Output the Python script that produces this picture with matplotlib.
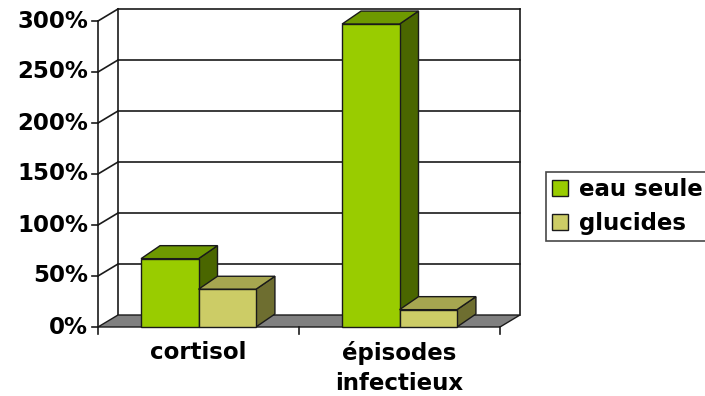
import matplotlib
matplotlib.use("Agg")
import matplotlib.pyplot as plt
from matplotlib.patches import Polygon, Patch
import numpy as np

# Data
categories = ["cortisol", "épisodes\ninfectieux"]
series_names = ["eau seule", "glucides"]
eau_seule = [67, 297]
glucides = [37, 17]
y_ticks = [0, 50, 100, 150, 200, 250, 300]
y_tick_labels = ["0%", "50%", "100%", "150%", "200%", "250%", "300%"]

# Face colours per series: front, side, top
front_colors = ["#99CC00", "#CCCC66"]
side_colors = ["#4A6600", "#6E6E30"]
top_colors = ["#6E9900", "#A6A650"]

W, H, DPI = 705, 396, 100
fig = plt.figure(figsize=(W / DPI, H / DPI), dpi=DPI)
fig.patch.set_facecolor("white")

# Axes spanning the front plane of the 3-D plot area
ax_left, ax_right, ax_bottom_px, ax_top_px = 98, 500, 327, 21
ax = fig.add_axes([ax_left / W, 1 - ax_bottom_px / H,
                   (ax_right - ax_left) / W, (ax_bottom_px - ax_top_px) / H])
ax.set_xlim(0, len(categories))
ax.set_ylim(0, 300)
ax.axis("off")

# Pixel -> data conversion for the depth offsets
px_x = len(categories) / (ax_right - ax_left)
px_y = 300 / (ax_bottom_px - ax_top_px)
wall_dx, wall_dy = 20 * px_x, 12 * px_y
bar_dx, bar_dy = 19 * px_x, 13 * px_y

line_kw = dict(color="#1a1a1a", lw=1.2, clip_on=False)
font = dict(family="DejaVu Sans", weight="bold", size=16.5)

# Back wall gridlines and left side wall
ymax = y_ticks[-1]
ax.plot([wall_dx, wall_dx], [wall_dy, ymax + wall_dy], **line_kw)
ax.plot([len(categories) + wall_dx] * 2, [wall_dy, ymax + wall_dy], **line_kw)
ax.plot([0, 0], [0, ymax], **line_kw)
for v in y_ticks[1:]:
    ax.plot([wall_dx, len(categories) + wall_dx], [v + wall_dy] * 2, **line_kw)
    ax.plot([0, wall_dx], [v, v + wall_dy], **line_kw)

# Floor
floor = Polygon([(0, 0), (len(categories), 0),
                 (len(categories) + wall_dx, wall_dy), (wall_dx, wall_dy)],
                closed=True, facecolor="#808080", edgecolor="#1a1a1a",
                lw=1.0, clip_on=False, zorder=2)
ax.add_patch(floor)

# Y ticks and labels
tick_len_x = 6 * px_x
for v, lab in zip(y_ticks, y_tick_labels):
    ax.plot([-tick_len_x, 0], [v, v], **line_kw)
    ax.text(-10 * px_x, v, lab, ha="right", va="center", **font)

# Category ticks under the floor
tick_len_y = 7 * px_y
for i in range(len(categories) + 1):
    ax.plot([i, i], [0, -tick_len_y], **line_kw)

# Bars (gap width 150%)
n_series = len(series_names)
bw = 1 / (n_series + 1.5)
data = [eau_seule, glucides]
for ci in range(len(categories)):
    x0 = ci + 0.5 - bw * n_series / 2
    for si in range(n_series):
        v = data[si][ci]
        xl = x0 + si * bw
        xr = xl + bw
        z = 3 + si
        front = Polygon([(xl, 0), (xr, 0), (xr, v), (xl, v)], closed=True,
                        facecolor=front_colors[si], edgecolor="#1a1a1a",
                        lw=1.0, clip_on=False, zorder=z)
        side = Polygon([(xr, 0), (xr + bar_dx, bar_dy), (xr + bar_dx, v + bar_dy),
                        (xr, v)], closed=True, facecolor=side_colors[si],
                       edgecolor="#1a1a1a", lw=1.0, clip_on=False, zorder=z)
        top = Polygon([(xl, v), (xr, v), (xr + bar_dx, v + bar_dy),
                       (xl + bar_dx, v + bar_dy)], closed=True,
                      facecolor=top_colors[si], edgecolor="#1a1a1a",
                      lw=1.0, clip_on=False, zorder=z)
        ax.add_patch(side)
        ax.add_patch(top)
        ax.add_patch(front)

# Category labels
for ci, cat in enumerate(categories):
    ax.text(ci + 0.5, -14 * px_y, cat, ha="center", va="top",
            linespacing=1.4, **font)

# Legend
handles = [Patch(facecolor=front_colors[i], edgecolor="#1a1a1a", lw=1.0)
           for i in range(n_series)]
leg = fig.legend(handles, series_names, loc="upper left",
                 bbox_to_anchor=(546 / W, 1 - 172 / H),
                 prop=dict(family="DejaVu Sans", weight="bold", size=16.5),
                 frameon=True, fancybox=False, borderaxespad=0,
                 handlelength=0.7, handleheight=0.7, handletextpad=0.45,
                 labelspacing=0.45, borderpad=0.28)
leg.get_frame().set_edgecolor("#1a1a1a")
leg.get_frame().set_linewidth(1.2)

fig.savefig("out.png", dpi=DPI, facecolor="white")
